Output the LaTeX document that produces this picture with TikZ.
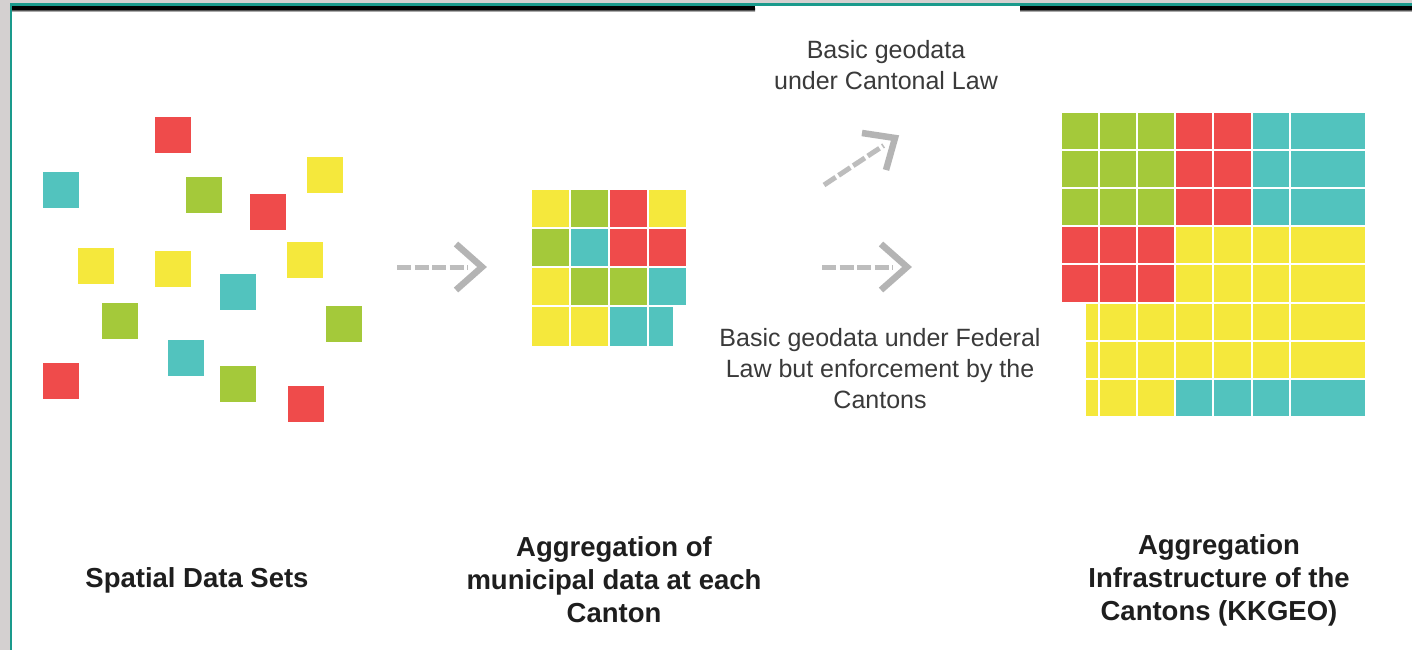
\documentclass[tikz,border=0pt]{standalone}
\usepackage{fontspec}
\setmainfont{Liberation Sans}
\usetikzlibrary{calc}
\definecolor{cred}{HTML}{EF4B4B}
\definecolor{cgreen}{HTML}{A4C93A}
\definecolor{cyellow}{HTML}{F5E83C}
\definecolor{cteal}{HTML}{52C3BE}
\definecolor{frameteal}{HTML}{1A9A8C}
\definecolor{framegray}{HTML}{D4D0D0}
\definecolor{arrowgray}{HTML}{BDBDBD}
\definecolor{headgray}{HTML}{B4B4B4}
\definecolor{notegray}{HTML}{3A3A3A}
\definecolor{lblblack}{HTML}{1E1E1E}
\begin{document}
\begin{tikzpicture}[x=1pt,y=-1pt,
  lbl/.style={align=center, text=lblblack, inner sep=0pt,
    font=\fontsize{27.5}{33}\selectfont\bfseries},
  note/.style={align=center, text=notegray, inner sep=0pt,
    font=\fontsize{25}{31}\selectfont},
  shaft/.style={draw=arrowgray, line width=5pt, dash pattern=on 14pt off 3.5pt},
  chevron/.style={draw=headgray, line width=6.5pt, line join=miter, line cap=butt}
]
\useasboundingbox (0,0) rectangle (1412,650);
% frame
\fill[framegray] (0,0) rectangle (1412,650);
\fill[white] (11,6) rectangle (1412,650);
\fill[frameteal] (9.5,3.5) rectangle (1412,6);
\fill[frameteal] (9.5,3.5) rectangle (12,650);
\fill[black] (12,6) rectangle (755,9);
\shade[top color=black, bottom color=white] (12,9) rectangle (755,12);
\fill[black] (1020,6) rectangle (1412,9);
\shade[top color=black, bottom color=white] (1020,9) rectangle (1412,12);

% scattered spatial data sets
\foreach \x/\y/\c in {155/117/cred, 43/172/cteal, 186/177/cgreen, 307/157/cyellow,
  250/194/cred, 78/248/cyellow, 155/251/cyellow, 287/242/cyellow, 220/274/cteal,
  102/303/cgreen, 326/306/cgreen, 168/340/cteal, 43/363/cred, 220/366/cgreen,
  288/386/cred}
  \fill[\c] (\x,\y) rectangle +(36,36);

% municipal aggregation grid
\foreach \r/\row in {0/{cyellow,cgreen,cred,cyellow}, 1/{cgreen,cteal,cred,cred},
  2/{cyellow,cgreen,cgreen,cteal}} {
  \foreach \c [count=\i from 0] in \row
    \fill[\c] (532+39*\i,190+39*\r) rectangle +(37,37);
}
\fill[cyellow] (532,307) rectangle +(37,39);
\fill[cyellow] (571,307) rectangle +(37,39);
\fill[cteal] (610,307) rectangle +(37,39);
\fill[cteal] (649,307) rectangle +(24,39);

% cantonal infrastructure grid
\def\px{38.1}
\foreach \r in {0,1,2} {
  \foreach \i in {0,1,2} \fill[cgreen] (1062+\px*\i,113+\px*\r) rectangle +(\px-2,\px-2);
  \foreach \i in {3,4} \fill[cred] (1062+\px*\i,113+\px*\r) rectangle +(\px-2,\px-2);
  \fill[cteal] (1062+\px*5,113+\px*\r) rectangle +(\px-2,\px-2);
  \fill[cteal] (1062+\px*6,113+\px*\r) rectangle +(2*\px-2,\px-2);
}
\foreach \r in {3,4} {
  \foreach \i in {0,1,2} \fill[cred] (1062+\px*\i,113+\px*\r) rectangle +(\px-2,\px-2);
  \foreach \i in {3,4,5} \fill[cyellow] (1062+\px*\i,113+\px*\r) rectangle +(\px-2,\px-2);
  \fill[cyellow] (1062+\px*6,113+\px*\r) rectangle +(2*\px-2,\px-2);
}
\foreach \r in {5,6,7} {
  \fill[cyellow] (1086,113+\px*\r) rectangle (1062+\px-2,113+\px*\r+\px-2);
  \foreach \i in {1,2} \fill[cyellow] (1062+\px*\i,113+\px*\r) rectangle +(\px-2,\px-2);
}
\foreach \r in {5,6} {
  \foreach \i in {3,4,5} \fill[cyellow] (1062+\px*\i,113+\px*\r) rectangle +(\px-2,\px-2);
  \fill[cyellow] (1062+\px*6,113+\px*\r) rectangle +(2*\px-2,\px-2);
}
\foreach \i in {3,4,5} \fill[cteal] (1062+\px*\i,113+\px*7) rectangle +(\px-2,\px-2);
\fill[cteal] (1062+\px*6,113+\px*7) rectangle +(2*\px-2,\px-2);

% arrows
\coordinate (a1s) at (397,267);
\coordinate (a1e) at (482,267);
\coordinate (a2s) at (822,267);
\coordinate (a2e) at (907,267);
\coordinate (a3s) at (824,185);
\coordinate (a3e) at (895,138);
\draw[shaft] (a1s) -- ($(a1e)+(-14,0)$);
\draw[chevron] ($(a1e)+(-26,-23)$) -- (a1e) -- ($(a1e)+(-26,23)$);
\draw[shaft] (a2s) -- ($(a2e)+(-14,0)$);
\draw[chevron] ($(a2e)+(-26,-23)$) -- (a2e) -- ($(a2e)+(-26,23)$);
\draw[shaft] (a3s) -- ($(a3s)!0.84!(a3e)$);
\draw[chevron] (862,133) -- (a3e) -- (886,170);

% texts
\node[note] (n1) at (886,65) {Basic geodata\\under Cantonal Law};
\node[note] (n2) at (880,369) {Basic geodata under Federal\\Law but enforcement by the\\Cantons};
\node[lbl] (t1) at (197,580) {Spatial Data Sets};
\node[lbl] (t2) at (614,580) {Aggregation of\\municipal data at each\\Canton};
\node[lbl] (t3) at (1219,580) {Aggregation\\Infrastructure of the\\Cantons (KKGEO)};
\end{tikzpicture}
\end{document}
